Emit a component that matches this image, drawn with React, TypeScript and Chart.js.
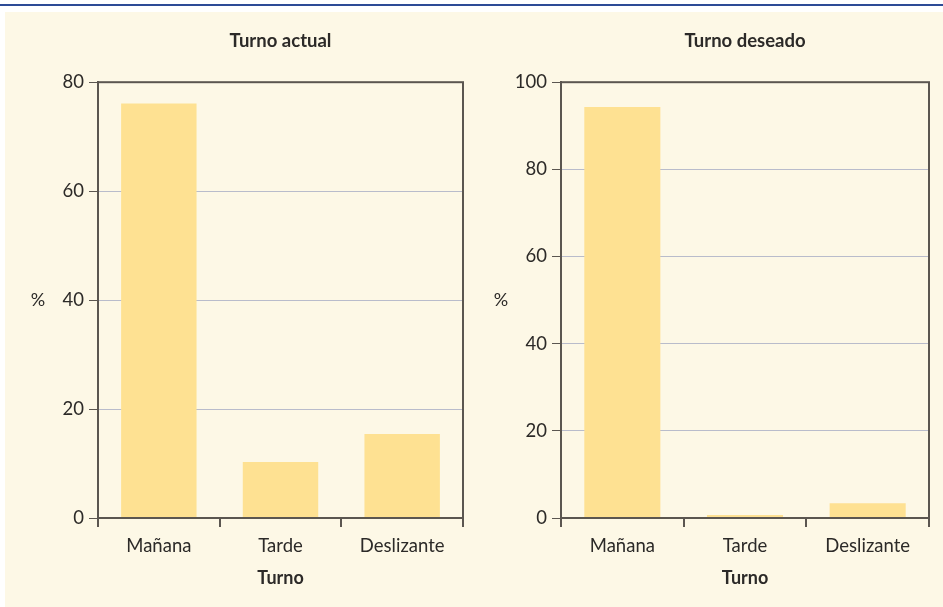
import React, { useEffect, useRef } from "react";
import { Chart, registerables } from "chart.js";

Chart.register(...registerables);

const categories = ["Mañana", "Tarde", "Deslizante"];
const actualValues = [76.1, 10.3, 15.4];
const deseadoValues = [94.3, 0.7, 3.4];
const actualMax = 80;
const deseadoMax = 100;
const tickStep = 20;

const FONT = "Lato, 'Open Sans', sans-serif";
const BAR = "#fee192";
const BG = "#fdf8e6";
const DARK = "#5b5650";
const GRID = "#b9bccb";
const TEXT = "#2c2a28";

const framePlugin = {
  id: "frame",
  afterDatasetsDraw(chart: any) {
    const { ctx, chartArea } = chart;
    const a = chartArea;
    ctx.save();
    ctx.strokeStyle = DARK;
    ctx.lineWidth = 2;
    ctx.strokeRect(a.left, a.top, a.right - a.left, a.bottom - a.top);
    ctx.restore();
  },
  afterDraw(chart: any) {
    const { ctx, chartArea } = chart;
    const a = chartArea;
    ctx.save();
    ctx.fillStyle = TEXT;
    ctx.font = `18px ${FONT}`;
    ctx.textAlign = "center";
    ctx.textBaseline = "middle";
    ctx.fillText("%", a.left - 60, (a.top + a.bottom) / 2);
    ctx.font = `bold 18px ${FONT}`;
    ctx.fillText("Turno", (a.left + a.right) / 2, a.bottom + 60);
    ctx.restore();
  },
};

function Panel(props: {
  left: number;
  width: number;
  axisWidth: number;
  padRight: number;
  values: number[];
  max: number;
  title: string;
}) {
  const ref = useRef<HTMLCanvasElement>(null);
  useEffect(() => {
    const chart = new Chart(ref.current!, {
      type: "bar",
      data: {
        labels: categories,
        datasets: [
          {
            data: props.values,
            backgroundColor: BAR,
            borderWidth: 0,
            barPercentage: 0.62,
            categoryPercentage: 1,
          },
        ],
      },
      plugins: [framePlugin],
      options: {
        animation: false,
        responsive: false,
        maintainAspectRatio: false,
        layout: { padding: { left: 0, right: props.padRight, top: 0, bottom: 0 } },
        plugins: {
          legend: { display: false },
          tooltip: { enabled: false },
          title: {
            display: true,
            text: props.title,
            fullSize: false,
            color: TEXT,
            font: { family: FONT, size: 18.5, weight: "bold" },
            padding: { top: 30, bottom: 30 },
          },
        },
        scales: {
          x: {
            afterFit: (s: any) => {
              s.height = 89;
            },
            grid: {
              offset: true,
              drawOnChartArea: false,
              drawTicks: true,
              tickLength: 9,
              tickColor: DARK,
              lineWidth: 2,
            },
            border: { display: true, color: DARK, width: 2 },
            ticks: {
              color: TEXT,
              padding: 8,
              font: { family: FONT, size: 18.5 },
            },
          },
          y: {
            min: 0,
            max: props.max,
            afterFit: (s: any) => {
              s.width = props.axisWidth;
            },
            grid: {
              color: (c: any) => (c.tick && c.tick.value === 0 ? "rgba(0,0,0,0)" : GRID),
              lineWidth: 1,
              drawTicks: true,
              tickLength: 9,
              tickColor: DARK,
            },
            border: { display: true, color: DARK, width: 2 },
            ticks: {
              stepSize: tickStep,
              color: TEXT,
              padding: 5,
              font: { family: FONT, size: 18.5 },
            },
          },
        },
      } as any,
    });
    return () => chart.destroy();
  }, []);
  return (
    <canvas
      ref={ref}
      width={props.width}
      height={607}
      style={{ position: "absolute", left: props.left, top: 0, width: props.width, height: 607 }}
    />
  );
}

export default function App() {
  return (
    <div
      style={{
        position: "fixed",
        left: 0,
        top: 0,
        width: 943,
        height: 607,
        background: "#ffffff",
        overflow: "hidden",
      }}
    >
      <div style={{ position: "absolute", left: 0, top: 4, width: 943, height: 2, background: "#2d4b96" }} />
      <div style={{ position: "absolute", left: 5, top: 12, width: 938, height: 595, background: BG }} />
      <Panel left={0} width={470} axisWidth={98} padRight={7} values={actualValues} max={actualMax} title="Turno actual" />
      <Panel left={470} width={473} axisWidth={91} padRight={14} values={deseadoValues} max={deseadoMax} title="Turno deseado" />
    </div>
  );
}
